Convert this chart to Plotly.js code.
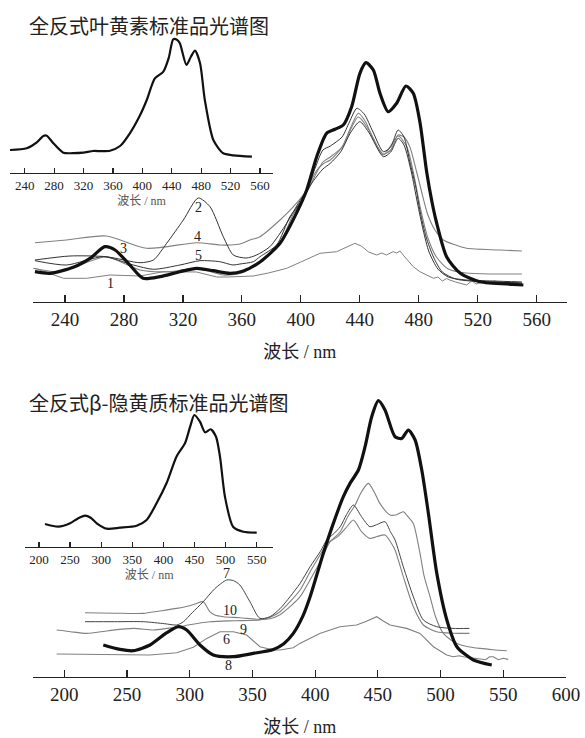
<!DOCTYPE html>
<html>
<head>
<meta charset="utf-8">
<script src="https://cdn.plot.ly/plotly-3.0.1.min.js"></script>
<style>html,body{margin:0;padding:0;background:#fff;}#chart{width:585px;height:738px;}</style>
</head>
<body>
<div id="chart"></div>
<script>
// ---------- Titles / labels ----------
const titleTop = "全反式叶黄素标准品光谱图";
const titleBottom = "全反式β-隐黄质标准品光谱图";
const axisTitle = "波长 / nm";
const ticksTop = [240, 280, 320, 360, 400, 440, 480, 520, 560];
const ticksTopInset = [240, 280, 320, 360, 400, 440, 480, 520, 560];
const ticksBottom = [200, 250, 300, 350, 400, 450, 500, 550, 600];
const ticksBottomInset = [200, 250, 300, 350, 400, 450, 500, 550];

// ---------- Top inset: lutein standard ----------
const luteinStdX = [220, 242.7, 256, 265.3, 270, 279, 292.5, 305, 319.7, 333, 345, 356, 369.7, 383, 397, 406, 417, 428.6, 436, 442, 447, 451, 460, 466, 471.7, 478.5, 485, 496.6, 510, 524, 549];
const luteinStdY = [0.227, 0.244, 0.3, 0.367, 0.37, 0.294, 0.2, 0.195, 0.2, 0.217, 0.215, 0.22, 0.267, 0.394, 0.577, 0.727, 0.944, 1.01, 1.15, 1.334, 1.33, 1.294, 1.077, 1.16, 1.22, 1.094, 0.727, 0.327, 0.194, 0.174, 0.16];

// ---------- Top main: lutein samples (labels 1-5) ----------
const top3X = [219.6, 229.8, 245.6, 257, 267.1, 274, 284, 293, 304.4, 318, 329.3, 340.6, 352, 361, 372.3, 385.9, 397, 404, 410.8, 417.5, 423.2, 428.8, 434.5, 440.1, 444.2, 449.2, 453.7, 459.3, 465, 471.3, 476.3, 480.8, 485.4, 489, 492, 499, 508, 521.5, 544, 551];
const top3Y = [0.303, 0.287, 0.347, 0.437, 0.553, 0.52, 0.37, 0.237, 0.253, 0.303, 0.337, 0.313, 0.287, 0.31, 0.4, 0.587, 0.887, 1.12, 1.453, 1.687, 1.727, 1.77, 1.953, 2.287, 2.393, 2.32, 2.087, 1.903, 1.987, 2.16, 2.087, 1.8, 1.3, 1.0, 0.8, 0.45, 0.29, 0.203, 0.177, 0.17];

const top4X = [219.6, 241, 268, 295.4, 329.3, 345, 352, 358.7, 365.5, 372.3, 385.9, 395, 404, 410, 415, 420, 428, 434, 439, 444, 450, 456, 461, 466, 470, 474, 478.6, 482, 486, 491, 496.7, 505, 512.5, 535, 550];
const top4Y = [0.593, 0.62, 0.66, 0.537, 0.593, 0.57, 0.57, 0.58, 0.62, 0.653, 0.82, 0.953, 1.12, 1.3, 1.38, 1.42, 1.55, 1.75, 1.887, 1.8, 1.6, 1.48, 1.52, 1.67, 1.65, 1.55, 1.3, 1.1, 0.88, 0.72, 0.62, 0.57, 0.537, 0.52, 0.51];

const top2X = [219.6, 243.4, 268, 291, 300, 309, 320.3, 330.4, 338.4, 347.4, 354.2, 363, 370, 379, 390.4, 398, 404, 410, 415, 420, 428, 433, 438, 443, 449, 456, 461, 466, 470, 474, 478, 481, 485, 490, 496, 505, 515, 530, 550];
const top2Y = [0.42, 0.46, 0.453, 0.393, 0.42, 0.587, 0.82, 1.04, 0.953, 0.653, 0.47, 0.44, 0.47, 0.553, 0.787, 0.98, 1.12, 1.35, 1.52, 1.56, 1.65, 1.8, 1.937, 1.88, 1.7, 1.503, 1.55, 1.72, 1.65, 1.4, 1.15, 0.9, 0.65, 0.45, 0.3, 0.23, 0.21, 0.2, 0.19];

const top5X = [219.6, 241, 266, 286.3, 300, 318, 331.6, 345, 354, 358.7, 367.8, 372.3, 383.6, 392.6, 400, 408, 415, 420, 427, 434, 440, 446, 456, 461, 466, 470, 475, 479, 483, 487, 493, 500, 512, 530, 550];
const top5Y = [0.413, 0.37, 0.453, 0.37, 0.327, 0.37, 0.413, 0.403, 0.37, 0.38, 0.403, 0.453, 0.57, 0.853, 1.0, 1.2, 1.33, 1.387, 1.5, 1.7, 1.803, 1.7, 1.453, 1.5, 1.637, 1.57, 1.3, 1.0, 0.72, 0.5, 0.33, 0.25, 0.22, 0.21, 0.2];

const topGX = [218.5, 234.4, 250, 268, 291, 311, 329.3, 347.4, 360, 372, 386, 395, 404, 415, 420, 428, 439, 447, 456, 466, 472, 477, 481, 486, 492, 500, 512, 530, 550];
const topGY = [0.337, 0.303, 0.37, 0.453, 0.32, 0.303, 0.337, 0.27, 0.29, 0.4, 0.6, 0.88, 1.1, 1.4, 1.45, 1.55, 1.85, 1.7, 1.47, 1.66, 1.55, 1.25, 0.95, 0.65, 0.45, 0.33, 0.29, 0.28, 0.28];

const top1X = [219.6, 229.8, 239, 254.7, 270.5, 291, 306.7, 329.3, 343, 350, 358, 367.8, 378, 390.4, 400, 413, 424.3, 430, 436.7, 441, 446, 451.5, 455, 458, 462.7, 465, 467.3, 470, 476.3, 480.8, 485, 490, 493, 496, 499, 501, 505, 508, 512.5, 516, 519, 523.8, 527, 531, 535, 540, 545, 550];
const top1Y = [0.337, 0.287, 0.237, 0.237, 0.27, 0.26, 0.303, 0.3, 0.25, 0.25, 0.255, 0.26, 0.29, 0.337, 0.4, 0.487, 0.503, 0.54, 0.587, 0.56, 0.5, 0.47, 0.49, 0.47, 0.503, 0.49, 0.51, 0.46, 0.353, 0.303, 0.27, 0.237, 0.25, 0.21, 0.235, 0.22, 0.2, 0.185, 0.17, 0.21, 0.18, 0.203, 0.19, 0.21, 0.2, 0.19, 0.2, 0.187];

const topLabels = ["1", "2", "3", "4", "5"];
const topLabelX = [271.2, 330.4, 280, 330, 330.4];
const topLabelY = [0.187, 0.947, 0.537, 0.653, 0.47];

// ---------- Bottom inset: beta-cryptoxanthin standard ----------
const cryptoStdX = [209.6, 231, 250, 262, 274, 283, 292.8, 308.8, 330, 357, 373, 389, 405, 421, 434.7, 443, 449.7, 458.8, 467, 476, 484.6, 491, 499, 512, 528.5, 550];
const cryptoStdY = [0.227, 0.2, 0.234, 0.28, 0.31, 0.29, 0.234, 0.18, 0.19, 0.21, 0.267, 0.434, 0.634, 0.9, 1.034, 1.2, 1.317, 1.25, 1.144, 1.174, 1.1, 0.9, 0.5, 0.2, 0.15, 0.14];

// ---------- Bottom main: cryptoxanthin samples (labels 6-10) ----------
const bot8X = [231.1, 244.4, 255, 268.3, 281.7, 291, 297.6, 308.2, 318.8, 334.8, 350.7, 366.7, 375, 382.6, 390, 396, 406.5, 414.5, 422.5, 427.8, 434.5, 439.8, 445.1, 450.4, 455.7, 463.7, 469, 474.3, 479.7, 485, 490.3, 497, 505, 513, 526.2, 540.8];
const bot8Y = [0.317, 0.273, 0.26, 0.317, 0.44, 0.5, 0.467, 0.317, 0.217, 0.2, 0.233, 0.273, 0.33, 0.433, 0.6, 0.8, 1.233, 1.533, 1.8, 1.933, 2.067, 2.3, 2.6, 2.76, 2.667, 2.4, 2.383, 2.467, 2.367, 2.067, 1.633, 1.033, 0.567, 0.3, 0.167, 0.117];

const bot6X = [193.9, 210, 228.5, 250, 268.3, 289.6, 302.9, 313.6, 324.2, 334.8, 345.4, 356, 366.7, 372, 382.6, 387.8, 403.7, 419.7, 433, 440, 449.1, 454, 459.7, 473, 483.6, 494.3, 504.9, 510, 515, 518.2, 524, 531.5, 536, 539, 542.1, 546, 550, 554];
const bot6Y = [0.227, 0.225, 0.217, 0.215, 0.217, 0.24, 0.295, 0.383, 0.45, 0.45, 0.417, 0.3, 0.267, 0.267, 0.29, 0.333, 0.433, 0.5, 0.517, 0.55, 0.6, 0.56, 0.517, 0.483, 0.433, 0.3, 0.217, 0.2, 0.21, 0.2, 0.19, 0.183, 0.17, 0.2, 0.2, 0.17, 0.185, 0.173];

const bot9X = [193.9, 205, 217.9, 235, 255, 271, 281.7, 292.3, 300, 316.2, 335, 356, 365, 372, 380, 388, 396, 404, 409, 414.5, 420, 426, 432, 437, 442.4, 447, 451.6, 459.7, 465, 470.3, 474, 478.3, 483.6, 487, 491.6, 496, 502.2, 508, 513, 522, 531.5, 542, 552.8];
const bot9Y = [0.467, 0.45, 0.433, 0.46, 0.483, 0.467, 0.483, 0.5, 0.52, 0.55, 0.56, 0.567, 0.6, 0.65, 0.75, 0.867, 1.05, 1.22, 1.32, 1.38, 1.45, 1.6, 1.72, 1.85, 1.933, 1.85, 1.733, 1.617, 1.62, 1.65, 1.6, 1.533, 1.233, 1.0, 0.8, 0.6, 0.433, 0.37, 0.333, 0.3, 0.283, 0.27, 0.26];

const bot7X = [216.5, 240, 263, 280, 289.6, 295, 302, 310.8, 320, 329.5, 335, 340, 348, 356, 364, 372, 380, 388, 396, 404, 410, 414, 420, 425, 430.5, 437, 443.6, 449, 455.7, 460, 463.7, 470.3, 478.3, 486.3, 496.9, 510, 523];
const bot7Y = [0.55, 0.55, 0.55, 0.53, 0.517, 0.55, 0.64, 0.75, 0.88, 0.967, 0.96, 0.917, 0.75, 0.583, 0.6, 0.68, 0.8, 0.933, 1.1, 1.25, 1.38, 1.42, 1.5, 1.62, 1.717, 1.6, 1.5, 1.52, 1.55, 1.45, 1.367, 1.1, 0.8, 0.567, 0.5, 0.483, 0.483];

const bot10X = [216.5, 240, 263, 275, 289.6, 300, 305, 310.8, 316, 320, 326.8, 340, 356, 364, 372, 380, 388, 396, 404, 412, 418, 424, 430.5, 437, 443.6, 449, 455.7, 460, 463.7, 470.3, 478.3, 486.3, 496.9, 510, 523];
const bot10Y = [0.64, 0.635, 0.633, 0.655, 0.683, 0.71, 0.73, 0.75, 0.65, 0.617, 0.6, 0.59, 0.573, 0.58, 0.62, 0.7, 0.8, 0.97, 1.15, 1.35, 1.4, 1.48, 1.567, 1.45, 1.383, 1.4, 1.417, 1.35, 1.267, 1.0, 0.7, 0.517, 0.45, 0.435, 0.433];

const botLabels = ["7", "10", "9", "6", "8"];
const botLabelX = [329.5, 332.1, 342.7, 329.5, 330.8];
const botLabelY = [1.033, 0.667, 0.473, 0.373, 0.117];

// ---------- Styling ----------
const BLACK = "#111", DARK = "#333", GRAY = "#808080";
const serif = "Liberation Serif, Times New Roman, serif";
const cjk = "Liberation Serif, Noto Sans CJK SC, serif";

function tr(x, y, xa, ya, color, width, smooth) {
  return {
    x: x, y: y, xaxis: xa, yaxis: ya, type: "scatter", mode: "lines",
    line: {color: color, width: width, shape: smooth ? "spline" : "linear", smoothing: 0.7},
    hoverinfo: "skip", showlegend: false
  };
}

const data = [
  tr(luteinStdX, luteinStdY, "x2", "y2", BLACK, 2.2, true),
  tr(top1X, top1Y, "x", "y", GRAY, 1, false),
  tr(top4X, top4Y, "x", "y", GRAY, 1.1, true),
  tr(topGX, topGY, "x", "y", GRAY, 1.1, true),
  tr(top5X, top5Y, "x", "y", DARK, 1, true),
  tr(top2X, top2Y, "x", "y", DARK, 1, true),
  tr(top3X, top3Y, "x", "y", BLACK, 3.2, true),
  tr(cryptoStdX, cryptoStdY, "x4", "y4", BLACK, 2.2, true),
  tr(bot6X, bot6Y, "x3", "y3", GRAY, 1.1, false),
  tr(bot9X, bot9Y, "x3", "y3", GRAY, 1.1, true),
  tr(bot10X, bot10Y, "x3", "y3", GRAY, 1.1, true),
  tr(bot7X, bot7Y, "x3", "y3", "#444", 1, true),
  tr(bot8X, bot8Y, "x3", "y3", BLACK, 3.2, true)
];

function xax(domain, range, ticks, fontSize, titleSize, standoff, anchor, titleColor) {
  return {
    domain: domain, range: range, anchor: anchor,
    tickmode: "array", tickvals: ticks, ticktext: ticks.map(String),
    ticks: "inside", ticklen: fontSize > 14 ? 7 : 5, tickwidth: 1.2, tickcolor: "#222",
    showline: true, linecolor: "#222", linewidth: 1.3,
    showgrid: false, zeroline: false, fixedrange: true,
    tickfont: {family: serif, size: fontSize, color: "#222"},
    title: {text: axisTitle, font: {family: cjk, size: titleSize, color: titleColor}, standoff: standoff},
    automargin: false
  };
}
function yax(domain, range, anchor) {
  return {domain: domain, range: range, anchor: anchor, visible: false, showgrid: false, zeroline: false, fixedrange: true};
}

const annotations = [];
topLabels.forEach((t, i) => annotations.push({
  x: topLabelX[i], y: topLabelY[i], xref: "x", yref: "y", text: t, showarrow: false,
  font: {family: serif, size: 14, color: "#222"}
}));
botLabels.forEach((t, i) => annotations.push({
  x: botLabelX[i], y: botLabelY[i], xref: "x3", yref: "y3", text: t, showarrow: false,
  font: {family: serif, size: 14, color: "#222"}
}));
annotations.push({
  x: 27 / 585, y: 1 - 25 / 738, xref: "paper", yref: "paper", xanchor: "left", yanchor: "middle",
  text: titleTop, showarrow: false, font: {family: "Noto Sans CJK SC, sans-serif", size: 20, color: "#222"}
});
annotations.push({
  x: 27 / 585, y: 1 - 402 / 738, xref: "paper", yref: "paper", xanchor: "left", yanchor: "middle",
  text: titleBottom, showarrow: false, font: {family: "Noto Sans CJK SC, sans-serif", size: 20, color: "#222"}
});

const layout = {
  width: 585, height: 738,
  margin: {l: 0, r: 0, t: 0, b: 0},
  paper_bgcolor: "#fff", plot_bgcolor: "rgba(0,0,0,0)",
  showlegend: false,
  xaxis: xax([33 / 585, 566.7 / 585], [218.3, 580.4], ticksTop, 19, 18, 16, "y", "#222"),
  yaxis: yax([1 - 302 / 738, 1 - 42 / 738], [0, 2.6], "x"),
  xaxis2: xax([10 / 585, 273 / 585], [220, 577.7], ticksTopInset, 13, 12, 5, "y2", "#555"),
  yaxis2: yax([1 - 172.7 / 738, 1 - 30 / 738], [0, 1.427], "x2"),
  xaxis3: xax([33.3 / 585, 566 / 585], [175.3, 600], ticksBottom, 19, 18, 16, "y3", "#222"),
  yaxis3: yax([1 - 676.7 / 738, 1 - 395 / 738], [0, 2.817], "x3"),
  xaxis4: xax([25 / 585, 273.3 / 585], [177.5, 576.7], ticksBottomInset, 13, 12, 5, "y4", "#555"),
  yaxis4: yax([1 - 546.7 / 738, 1 - 400 / 738], [0, 1.467], "x4"),
  annotations: annotations
};

Plotly.newPlot("chart", data, layout, {staticPlot: true, displayModeBar: false});
</script>
</body>
</html>
